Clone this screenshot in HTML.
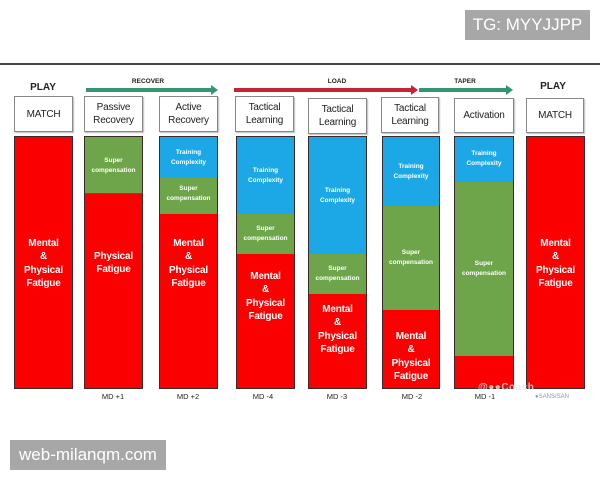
<!DOCTYPE html>
<html><head><meta charset="utf-8"><style>
*{margin:0;padding:0;box-sizing:border-box}
body{width:600px;height:480px;background:#fff;position:relative;overflow:hidden;font-family:"Liberation Sans",Arial,sans-serif}
.a{position:absolute}
.tg{left:465px;top:10px;width:125px;height:30px;background:#a7a7a7;color:#fff;font-size:17px;line-height:30px;text-align:center}
.wm{left:10px;top:440px;width:156px;height:30px;background:#a7a7a7;color:#fff;font-size:17px;line-height:30px;text-align:center}
.hl{left:0;top:63px;width:600px;height:2px;background:#444}
.box{position:absolute;top:96px;height:36px;border:1px solid #888;background:#fff;box-shadow:1px 1px 1px #bbb;color:#222;font-size:10px;line-height:13px;display:flex;align-items:center;justify-content:center;text-align:center;letter-spacing:-0.2px}
.play{position:absolute;font-size:10px;font-weight:bold;color:#222;width:60px;text-align:center}
.cat{position:absolute;font-size:6.5px;font-weight:bold;color:#222;text-align:center;width:80px;top:78px}
.bar{position:absolute;top:136px;height:253px;border:1px solid #3a2a2a}
.seg{position:absolute;left:0;width:100%}
.r{background:#fb0000}.g{background:#6ea54a}.b{background:#1ca8e6}
.t{position:absolute;left:0;width:100%;text-align:center;color:#fff;font-weight:bold;font-size:10px;line-height:13.3px;letter-spacing:-0.2px}
.s{position:absolute;left:0;width:100%;text-align:center;color:#fff;font-weight:bold;font-size:6.5px;line-height:10px}
.md{position:absolute;top:392px;font-size:7.5px;color:#222;width:40px;text-align:center}
.arr{position:absolute;height:4px;top:88px}
</style></head><body>
<div class="a tg">TG: MYYJJPP</div>
<div class="a hl"></div>

<div class="play" style="left:13px;top:82px">PLAY</div>
<div class="play" style="left:523px;top:81px">PLAY</div>
<div class="cat" style="left:108px">RECOVER</div>
<div class="cat" style="left:297px">LOAD</div>
<div class="cat" style="left:425px">TAPER</div>

<div class="arr" style="left:86px;width:126px;background:#33966f"></div>
<div class="a" style="left:211px;top:85px;width:0;height:0;border-top:5px solid transparent;border-bottom:5px solid transparent;border-left:7px solid #33966f"></div>
<div class="arr" style="left:234px;width:178px;background:#c42338"></div>
<div class="a" style="left:411px;top:85px;width:0;height:0;border-top:5px solid transparent;border-bottom:5px solid transparent;border-left:7px solid #c42338"></div>
<div class="arr" style="left:419px;width:88px;background:#33966f"></div>
<div class="a" style="left:506px;top:85px;width:0;height:0;border-top:5px solid transparent;border-bottom:5px solid transparent;border-left:7px solid #33966f"></div>

<div class="box" style="left:14px;width:59px">MATCH</div>
<div class="box" style="left:84px;width:59px">Passive<br>Recovery</div>
<div class="box" style="left:159px;width:59px">Active<br>Recovery</div>
<div class="box" style="left:235px;width:59px">Tactical<br>Learning</div>
<div class="box" style="left:308px;width:59px;top:98px">Tactical<br>Learning</div>
<div class="box" style="left:381px;width:58px;top:97px">Tactical<br>Learning</div>
<div class="box" style="left:454px;width:60px;top:98px;height:35px">Activation</div>
<div class="box" style="left:526px;width:58px;top:98px;height:35px">MATCH</div>

<!-- bar 1 -->
<div class="bar r" style="left:14px;width:59px">
<div class="t" style="top:100px">Mental<br>&amp;<br>Physical<br>Fatigue</div>
</div>
<!-- bar 2 -->
<div class="bar r" style="left:84px;width:59px">
<div class="seg g" style="top:0;height:57px;border-bottom:1px solid #a33"></div>
<div class="s" style="top:19px">Super<br>compensation</div>
<div class="t" style="top:113px">Physical<br>Fatigue</div>
</div>
<!-- bar 3 -->
<div class="bar r" style="left:159px;width:59px">
<div class="seg b" style="top:0;height:41px"></div>
<div class="seg g" style="top:41px;height:36px"></div>
<div class="s" style="top:11px">Training<br>Complexity</div>
<div class="s" style="top:47px">Super<br>compensation</div>
<div class="t" style="top:100px">Mental<br>&amp;<br>Physical<br>Fatigue</div>
</div>
<!-- bar 4 -->
<div class="bar r" style="left:236px;width:59px">
<div class="seg b" style="top:0;height:77px"></div>
<div class="seg g" style="top:77px;height:40px"></div>
<div class="s" style="top:29px">Training<br>Complexity</div>
<div class="s" style="top:87px">Super<br>compensation</div>
<div class="t" style="top:133px">Mental<br>&amp;<br>Physical<br>Fatigue</div>
</div>
<!-- bar 5 -->
<div class="bar r" style="left:308px;width:59px">
<div class="seg b" style="top:0;height:117px"></div>
<div class="seg g" style="top:117px;height:40px"></div>
<div class="s" style="top:49px">Training<br>Complexity</div>
<div class="s" style="top:127px">Super<br>compensation</div>
<div class="t" style="top:166px">Mental<br>&amp;<br>Physical<br>Fatigue</div>
</div>
<!-- bar 6 -->
<div class="bar r" style="left:382px;width:58px">
<div class="seg b" style="top:0;height:69px"></div>
<div class="seg g" style="top:69px;height:104px"></div>
<div class="s" style="top:25px">Training<br>Complexity</div>
<div class="s" style="top:111px">Super<br>compensation</div>
<div class="t" style="top:193px">Mental<br>&amp;<br>Physical<br>Fatigue</div>
</div>
<!-- bar 7 -->
<div class="bar r" style="left:454px;width:60px">
<div class="seg b" style="top:0;height:45px"></div>
<div class="seg g" style="top:45px;height:174px"></div>
<div class="s" style="top:12px">Training<br>Complexity</div>
<div class="s" style="top:122px">Super<br>compensation</div>
</div>
<!-- bar 8 -->
<div class="bar r" style="left:526px;width:59px">
<div class="t" style="top:100px">Mental<br>&amp;<br>Physical<br>Fatigue</div>
</div>

<div class="md" style="left:93px">MD +1</div>
<div class="md" style="left:168px">MD +2</div>
<div class="md" style="left:243px">MD -4</div>
<div class="md" style="left:317px">MD -3</div>
<div class="md" style="left:392px">MD -2</div>
<div class="md" style="left:465px">MD -1</div>
<div class="a" style="left:478px;top:382px;font-size:10px;color:rgba(230,230,230,0.8);font-weight:bold;letter-spacing:0.5px">@&#9679;&#9679;Coach</div>
<div class="a" style="left:535px;top:394px;font-size:6px;color:#8a9aaa">&#9679;SANS/SAN</div>

<div class="a wm">web-milanqm.com</div>
</body></html>
